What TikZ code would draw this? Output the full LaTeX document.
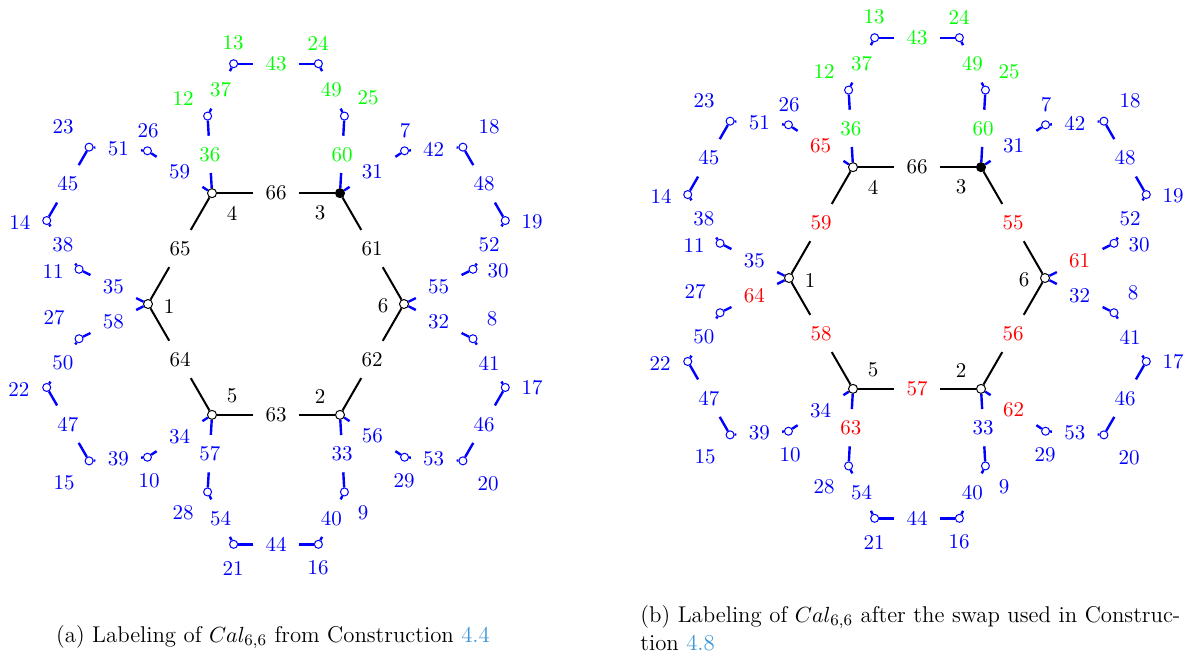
\documentclass[tikz,border=0pt]{standalone}
\usetikzlibrary{calc}
\definecolor{refcol}{RGB}{60,150,215}
\newcommand\labf{\fontsize{10.5}{12}\selectfont}
\newcommand\capf{\fontsize{11.4}{14}\selectfont}
\tikzset{
  hv/.style={circle,draw=black,fill=white,line width=0.5pt,minimum size=4.5pt,inner sep=0pt},
  hvf/.style={hv,fill=black},
  pv/.style={circle,draw=blue,fill=white,line width=0.5pt,minimum size=4pt,inner sep=0pt},
  elab/.style={inner xsep=6pt,inner ysep=5.5pt,font=\labf},
  vlab/.style={inner sep=0pt,font=\labf},
  hedge/.style={line width=1pt,black},
  bedge/.style={line width=1.2pt,blue},
}
% #1 line style, #2 name, #3 from, #4 to, #5 text colour, #6 text
\newcommand\cedge[6]{\path (#3) -- node[elab,text=#5] (#2) {#6} (#4); \draw[#1] (#3) -- (#2) -- (#4);}
\newcommand\calpanel{%
  % central hexagon
  \node[hv]  (v1) at (-180:128) {};
  \node[hv]  (v4) at (-120:128) {};
  \node[hvf] (v3) at (-60:128) {};
  \node[hv]  (v6) at (0:128) {};
  \node[hv]  (v2) at (60:128) {};
  \node[hv]  (v5) at (120:128) {};
  % petal vertices
  \node[pv] (c26) at (-130:200) {};
  \node[pv] (c11) at (-170:200) {};
  \node[pv] (c23) at (-140:244) {};
  \node[pv] (c14) at (-160:244) {};
  \node[pv] (c12) at (-110:200) {};
  \node[pv] (c25) at (-70:200) {};
  \node[pv] (c13) at (-100:244) {};
  \node[pv] (c24) at (-80:244) {};
  \node[pv] (c7)  at (-50:200) {};
  \node[pv] (c30) at (-10:200) {};
  \node[pv] (c18) at (-40:244) {};
  \node[pv] (c19) at (-20:244) {};
  \node[pv] (c8)  at (10:200) {};
  \node[pv] (c29) at (50:200) {};
  \node[pv] (c17) at (20:244) {};
  \node[pv] (c20) at (40:244) {};
  \node[pv] (c9)  at (70:200) {};
  \node[pv] (c28) at (110:200) {};
  \node[pv] (c16) at (80:244) {};
  \node[pv] (c21) at (100:244) {};
  \node[pv] (c10) at (130:200) {};
  \node[pv] (c27) at (170:200) {};
  \node[pv] (c15) at (140:244) {};
  \node[pv] (c22) at (160:244) {};
  % hexagon edges
  \cedge{hedge}{e14}{v1}{v4}{\hcol}{\Ea}
  \cedge{hedge}{e43}{v4}{v3}{black}{66}
  \cedge{hedge}{e36}{v3}{v6}{\hcol}{\Eb}
  \cedge{hedge}{e62}{v6}{v2}{\hcol}{\Ec}
  \cedge{hedge}{e25}{v2}{v5}{\hcol}{\Ed}
  \cedge{hedge}{e51}{v5}{v1}{\hcol}{\Ee}
  % spokes
  \cedge{bedge}{s412}{v4}{c12}{green}{36}
  \cedge{bedge}{s426}{v4}{c26}{\scol}{\Sa}
  \cedge{bedge}{s111}{v1}{c11}{blue}{35}
  \cedge{bedge}{s127}{v1}{c27}{\scol}{\Sb}
  \cedge{bedge}{s510}{v5}{c10}{blue}{34}
  \cedge{bedge}{s528}{v5}{c28}{\scol}{\Sc}
  \cedge{bedge}{s29}{v2}{c9}{blue}{33}
  \cedge{bedge}{s229}{v2}{c29}{\scol}{\Sd}
  \cedge{bedge}{s68}{v6}{c8}{blue}{32}
  \cedge{bedge}{s630}{v6}{c30}{\scol}{\Se}
  \cedge{bedge}{s37}{v3}{c7}{blue}{31}
  \cedge{bedge}{s325}{v3}{c25}{green}{60}
  % petal edges
  \cedge{bedge}{p51}{c26}{c23}{blue}{51}
  \cedge{bedge}{p45}{c23}{c14}{blue}{45}
  \cedge{bedge}{p38}{c14}{c11}{blue}{38}
  \cedge{bedge}{p50}{c27}{c22}{blue}{50}
  \cedge{bedge}{p47}{c22}{c15}{blue}{47}
  \cedge{bedge}{p39}{c15}{c10}{blue}{39}
  \cedge{bedge}{p54}{c28}{c21}{blue}{54}
  \cedge{bedge}{p44}{c21}{c16}{blue}{44}
  \cedge{bedge}{p40}{c16}{c9}{blue}{40}
  \cedge{bedge}{p53}{c29}{c20}{blue}{53}
  \cedge{bedge}{p46}{c20}{c17}{blue}{46}
  \cedge{bedge}{p41}{c17}{c8}{blue}{41}
  \cedge{bedge}{p42}{c7}{c18}{blue}{42}
  \cedge{bedge}{p48}{c18}{c19}{blue}{48}
  \cedge{bedge}{p52}{c19}{c30}{blue}{52}
  \cedge{bedge}{p37}{c12}{c13}{green}{37}
  \cedge{bedge}{p43}{c13}{c24}{green}{43}
  \cedge{bedge}{p49}{c24}{c25}{green}{49}
  % vertex labels
  \node[vlab] (l1) at (-107,2) {1};
  \node[vlab] (l6) at (107,2) {6};
  \node[vlab] (l4) at (-44,-91) {4};
  \node[vlab] (l3) at (44,-91) {3};
  \node[vlab] (l5) at (-44,92) {5};
  \node[vlab] (l2) at (44,92) {2};
  \node[vlab,text=green] (l12) at (-93,-206) {12};
  \node[vlab,text=green] (l13) at (-43,-261) {13};
  \node[vlab,text=green] (l24) at (42,-261) {24};
  \node[vlab,text=green] (l25) at (92,-206) {25};
  \node[vlab,text=blue] (l26) at (-128,-173) {26};
  \node[vlab,text=blue] (l23) at (-213,-177) {23};
  \node[vlab,text=blue] (l14) at (-256,-82) {14};
  \node[vlab,text=blue] (l11) at (-223,-33) {11};
  \node[vlab,text=blue] (l27) at (-222,14) {27};
  \node[vlab,text=blue] (l22) at (-257,85) {22};
  \node[vlab,text=blue] (l15) at (-212,179) {15};
  \node[vlab,text=blue] (l10) at (-127,177) {10};
  \node[vlab,text=blue] (l28) at (-93,209) {28};
  \node[vlab,text=blue] (l21) at (-43,264) {21};
  \node[vlab,text=blue] (l16) at (42,264) {16};
  \node[vlab,text=blue] (l9)  at (87,209) {9};
  \node[vlab,text=blue] (l29) at (128,177) {29};
  \node[vlab,text=blue] (l20) at (212,180) {20};
  \node[vlab,text=blue] (l17) at (256,84) {17};
  \node[vlab,text=blue] (l8)  at (216,15) {8};
  \node[vlab,text=blue] (l7)  at (129,-173) {7};
  \node[vlab,text=blue] (l18) at (213,-177) {18};
  \node[vlab,text=blue] (l19) at (256,-82) {19};
  \node[vlab,text=blue] (l30) at (222,-33) {30};
}
\begin{document}
\begin{tikzpicture}[x=0.5pt,y=-0.5pt]
\useasboundingbox (0,0) rectangle (1192,660);
\begin{scope}[shift={(276,304)},name prefix=a-]
  \def\hcol{black}\def\scol{blue}
  \def\Ea{65}\def\Eb{61}\def\Ec{62}\def\Ed{63}\def\Ee{64}
  \def\Sa{59}\def\Sb{58}\def\Sc{57}\def\Sd{56}\def\Se{55}
  \calpanel
\end{scope}
\begin{scope}[shift={(917,278)},name prefix=b-]
  \def\hcol{red}\def\scol{red}
  \def\Ea{59}\def\Eb{55}\def\Ec{56}\def\Ed{57}\def\Ee{58}
  \def\Sa{65}\def\Sb{64}\def\Sc{63}\def\Sd{62}\def\Se{61}
  \calpanel
\end{scope}
\node[font=\capf,inner sep=0pt] (capa) at (273,637)
  {(a) Labeling of $Cal_{6,6}$ from Construction \textcolor{refcol}{4.4}};
\node[font=\capf,inner sep=0pt,anchor=north west,align=left] (capb) at (640,605)
  {\makebox[270pt][s]{(b) Labeling of $Cal_{6,6}$ after the swap used in Construc-}\\
   tion \textcolor{refcol}{4.8}};
\end{tikzpicture}
\end{document}
